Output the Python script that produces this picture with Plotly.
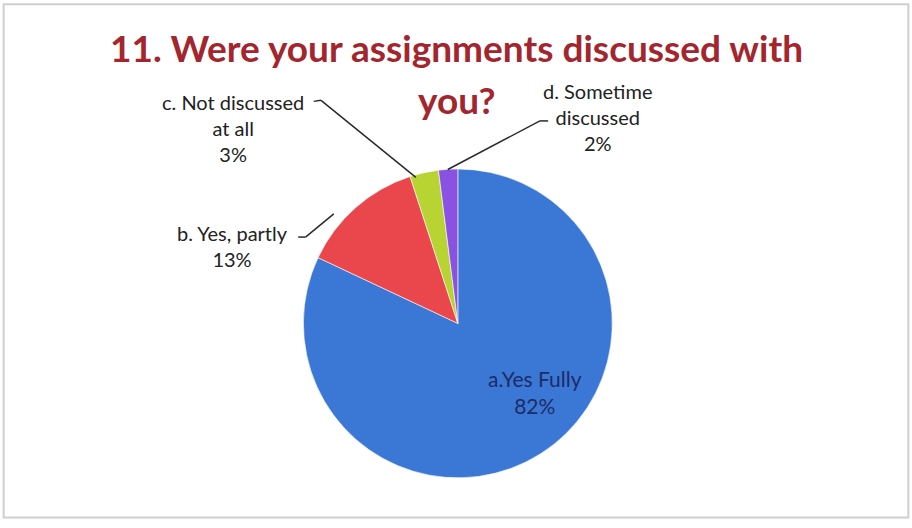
import plotly.graph_objects as go

# ---- data ----
categories = ["a.Yes Fully", "b. Yes, partly", "c. Not discussed<br>at all", "d. Sometime<br>discussed"]
values = [82, 13, 3, 2]
colors = ["#3b78d6", "#e9474c", "#b8d432", "#8a52e0"]
title_lines = ["11. Were your assignments discussed with", "you?"]

# label placement (paper coords) and leader lines
label_pos = [(0.587, 0.258), (0.255, 0.534), (0.256, 0.758), (0.655, 0.778)]
label_colors = ["#1b2c66", "#222222", "#222222", "#222222"]
leaders = [
    None,
    [(0.327, 0.551), (0.335, 0.551), (0.366, 0.595)],
    [(0.344, 0.808), (0.352, 0.810), (0.456, 0.664)],
    [(0.601, 0.771), (0.592, 0.771), (0.491, 0.679)],
]

fig = go.Figure(go.Pie(
    labels=categories,
    values=values,
    sort=False,
    direction="clockwise",
    rotation=0,
    marker=dict(colors=colors, line=dict(color="rgba(255,255,255,0.6)", width=1)),
    textinfo="none",
    hoverinfo="label+percent",
    showlegend=False,
    domain=dict(x=[0.332, 0.672], y=[0.095, 0.680]),
))

annotations = []
font_family = "Lato, 'Open Sans', sans-serif"
annotations.append(dict(text="<b>" + title_lines[0] + "</b>", x=0.5, y=0.910, xref="paper", yref="paper",
                        xanchor="center", yanchor="middle",
                        showarrow=False, font=dict(family=font_family, size=37, color="#a3262e")))
annotations.append(dict(text="<b>" + title_lines[1] + "</b>", x=0.501, y=0.812, xref="paper", yref="paper",
                        xanchor="center", yanchor="middle",
                        showarrow=False, font=dict(family=font_family, size=37, color="#a3262e")))

for i, (cat, val, (lx, ly), col) in enumerate(zip(categories, values, label_pos, label_colors)):
    annotations.append(dict(text=f"{cat}<br>{val}%", x=lx, y=ly, xref="paper", yref="paper",
                            xanchor="center", yanchor="middle",
                            showarrow=False, align="center",
                            font=dict(family=font_family, size=21 if i == 0 else 20, color=col)))

shapes = []
for path in leaders:
    if path is None:
        continue
    for (x0, y0), (x1, y1) in zip(path[:-1], path[1:]):
        shapes.append(dict(type="line", xref="paper", yref="paper", x0=x0, y0=y0, x1=x1, y1=y1,
                           line=dict(color="#2a2a2a", width=1.5)))
# chart frame
shapes.append(dict(type="rect", xref="paper", yref="paper", x0=0.004, y0=0.02, x1=0.996, y1=0.992,
                   line=dict(color="#cfcfcf", width=2)))

fig.update_layout(
    width=912, height=528,
    margin=dict(l=0, r=0, t=0, b=0),
    paper_bgcolor="white",
    plot_bgcolor="white",
    annotations=annotations,
    shapes=shapes,
)

fig.write_html("out.html", config={"displayModeBar": False},
               post_script="document.body.style.margin='0px';")
